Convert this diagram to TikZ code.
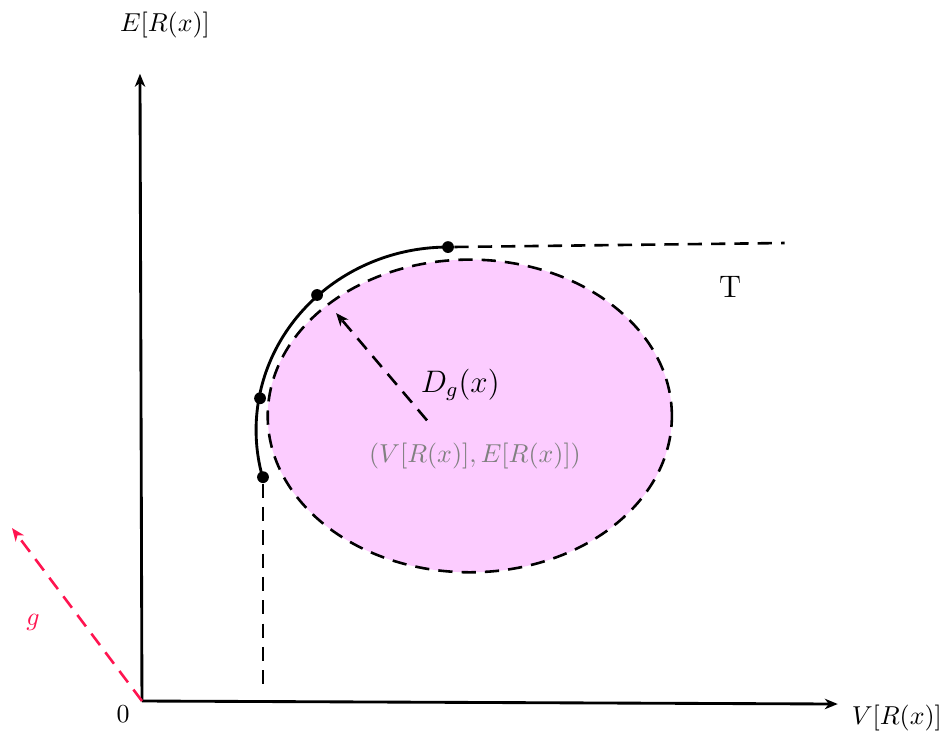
\documentclass[tikz,border=0pt]{standalone}
\usetikzlibrary{arrows.meta}
\definecolor{gred}{RGB}{255,20,80}
\definecolor{discpink}{RGB}{252,204,255}
\begin{document}
\begin{tikzpicture}[>={Stealth[length=5pt,width=4pt,inset=1.5pt]}, every node/.style={inner sep=1pt},
    dashline/.style={dash pattern=on 5.5pt off 3.5pt, line width=1pt},
    dot/.style={circle,fill=black,inner sep=0pt,minimum size=0.16cm}]
          \useasboundingbox (0,0) rectangle (12.8,9.98);
          % Points
          \coordinate (O) at (1.925,0.475);
          \coordinate (ytop) at (1.898,8.98);
          \coordinate (xend) at (11.36,0.434);
          \coordinate (gend) at (0.163,2.82);
          \coordinate (C) at (6.37,4.34);
          \coordinate (rstart) at (5.79,4.28);
          \coordinate (rend) at (4.556,5.736);
          \coordinate (tend) at (10.64,6.685);
          \coordinate (vbot) at (3.566,0.597);
          % Disc
          \draw[dashline, fill=discpink] (C) ellipse (2.74cm and 2.12cm);
          % Frontier
          \draw[line width=1.1pt] (6.075,6.63) arc (90:194.9:2.603cm and 2.481cm);
          \node[dot] (d1) at (6.075,6.63) {};
          \node[dot] (d2) at (4.299,5.98) {};
          \node[dot] (d3) at (3.526,4.58) {};
          \node[dot] (d4) at (3.566,3.51) {};
          \draw[dashline] (d1) -- (tend);
          \draw[dashline] (d4) -- (vbot);
          % Radius
          \draw[dashline, ->] (rstart) -- (rend);
          % Axes
          \draw[line width=1.1pt, ->] (O) -- (ytop);
          \draw[line width=1.1pt, ->] (O) -- (xend);
          \draw[dashline, gred, ->] (O) -- (gend);
          % Labels
          \node (ylab) at (2.237,9.64) {$E[R(x)]$};
          \node (xlab) at (12.16,0.244) {$V[R(x)]$};
          \node (zero) at (1.668,0.298) {$0$};
          \node[text=gred] (glab) at (0.447,1.546) {$g$};
          \node (tlab) at (9.90,6.09) {\large T};
          \node (dlab) at (6.24,4.76) {\large $D_g(x)$};
          \node[text=black!50] (clab) at (6.44,3.80) {$(V[R(x)],E[R(x)])$};
        \end{tikzpicture}
\end{document}
